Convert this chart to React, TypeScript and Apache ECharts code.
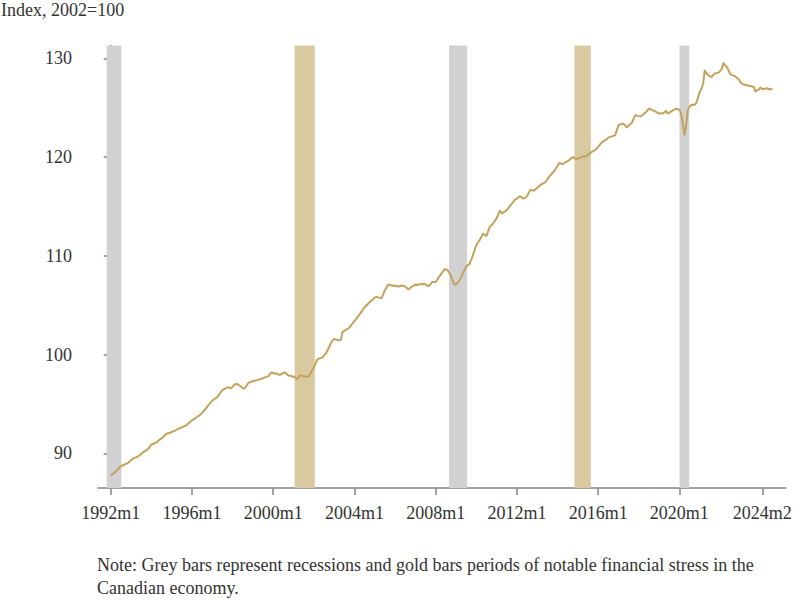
import React, { useEffect, useRef } from "react";
import * as echarts from "echarts";

// Month index 0 = 1992m1
const FIRST_YEAR = 1992;

const indexValues: number[] = [
  // 1992
  87.8, 87.9, 88.0, 88.2, 88.35, 88.55, 88.7, 88.8, 88.85, 88.95, 89.0, 89.15,
  // 1993
  89.3, 89.45, 89.55, 89.6, 89.7, 89.8, 89.95, 90.1, 90.2, 90.3, 90.45, 90.65,
  // 1994
  90.9, 90.95, 91.05, 91.1, 91.25, 91.4, 91.5, 91.65, 91.85, 92.0, 92.05, 92.1,
  // 1995
  92.15, 92.25, 92.3, 92.4, 92.5, 92.55, 92.65, 92.7, 92.8, 92.9, 93.05, 93.2,
  // 1996
  93.35, 93.45, 93.55, 93.7, 93.8, 93.95, 94.1, 94.3, 94.5, 94.7, 94.95, 95.15,
  // 1997
  95.35, 95.45, 95.6, 95.7, 95.95, 96.2, 96.4, 96.5, 96.6, 96.7, 96.65, 96.6,
  // 1998
  96.75, 96.95, 97.05, 97.0, 96.9, 96.75, 96.6, 96.55, 96.8, 97.05, 97.2, 97.25,
  // 1999
  97.3, 97.35, 97.4, 97.45, 97.5, 97.56, 97.6, 97.7, 97.75, 97.8, 98.0, 98.2,
  // 2000
  98.15, 98.1, 98.1, 98.0, 97.96, 98.05, 98.15, 98.2, 98.05, 97.9, 97.87, 97.8,
  // 2001
  97.8, 97.65, 97.5, 97.7, 97.96, 97.85, 97.8, 97.8, 97.8, 97.8, 98.1, 98.4,
  // 2002
  98.7, 99.1, 99.5, 99.6, 99.65, 99.7, 99.9, 100.1, 100.4, 100.75, 101.15, 101.4,
  // 2003
  101.6, 101.55, 101.5, 101.45, 101.5, 102.3, 102.4, 102.5, 102.6, 102.75, 102.95, 103.2,
  // 2004
  103.4, 103.6, 103.85, 104.05, 104.3, 104.55, 104.8, 104.95, 105.15, 105.3, 105.45, 105.6,
  // 2005
  105.8, 105.85, 105.8, 105.75, 105.7, 106.1, 106.5, 106.8, 107.1, 107.05, 107.0, 106.95,
  // 2006
  107.0, 106.95, 106.9, 106.95, 107.0, 106.95, 106.9, 106.75, 106.6, 106.75, 106.9, 107.0,
  // 2007
  107.1, 107.05, 107.1, 107.15, 107.1, 107.2, 107.1, 107.0, 106.95, 107.15, 107.36, 107.36,
  // 2008
  107.36, 107.6, 107.87, 108.1, 108.35, 108.6, 108.65, 108.55, 108.3, 108.0, 107.5, 107.1,
  // 2009
  107.1, 107.3, 107.5, 107.8, 108.2, 108.55, 108.9, 109.05, 109.2, 109.6, 110.06, 110.6,
  // 2010
  111.07, 111.35, 111.6, 111.9, 112.27, 112.1, 112.0, 112.5, 112.94, 113.1, 113.3, 113.55,
  // 2011
  113.8, 114.2, 114.6, 114.3, 114.4, 114.5, 114.63, 114.85, 115.1, 115.3, 115.5, 115.7,
  // 2012
  115.8, 115.95, 116.05, 115.9, 115.8, 115.9, 116.05, 116.4, 116.7, 116.65, 116.6, 116.75,
  // 2013
  116.9, 117.05, 117.2, 117.3, 117.4, 117.5, 117.75, 118.0, 118.2, 118.4, 118.6, 118.85,
  // 2014
  119.1, 119.4, 119.35, 119.3, 119.4, 119.5, 119.6, 119.7, 119.85, 120.0, 119.9, 119.77,
  // 2015
  119.85, 119.9, 120.0, 120.05, 120.05, 120.1, 120.25, 120.37, 120.5, 120.6, 120.7, 120.85,
  // 2016
  121.04, 121.25, 121.45, 121.6, 121.7, 121.8, 121.95, 122.05, 122.1, 122.15, 122.2, 122.7,
  // 2017
  123.24, 123.3, 123.35, 123.4, 123.2, 123.0, 123.2, 123.35, 123.48, 123.9, 124.26, 124.2,
  // 2018
  124.15, 124.1, 124.25, 124.4, 124.5, 124.7, 124.9, 124.85, 124.76, 124.7, 124.6, 124.5,
  // 2019
  124.4, 124.45, 124.4, 124.5, 124.7, 124.4, 124.5, 124.6, 124.7, 124.8, 124.9, 124.85,
  // 2020
  124.83, 124.4, 123.4, 122.2, 123.2, 124.8, 125.1, 125.27, 125.3, 125.3, 125.5, 126.0,
  // 2021
  126.6, 126.9, 127.4, 128.8, 128.5, 128.3, 128.2, 128.1, 128.3, 128.48, 128.5, 128.55,
  // 2022
  128.7, 128.9, 129.56, 129.3, 129.15, 128.8, 128.4, 128.3, 128.25, 128.2, 128.0, 127.9,
  // 2023
  127.6, 127.45, 127.35, 127.3, 127.3, 127.2, 127.2, 127.15, 127.1, 126.6, 126.8, 126.85,
  // 2024
  127.05, 126.9, 126.9, 126.95, 126.96, 126.85, 126.9, 126.85,
];

// Shaded periods, in month indices (start, end)
const recessionBands: [number, number][] = [
  [-2.4, 6.3],
  [199.9, 210.6],
  [336.1, 341.8],
];
const stressBands: [number, number][] = [
  [108.7, 120.6],
  [274.0, 283.7],
];

const xTickMonths = [0, 48, 96, 144, 192, 240, 288, 336, 385];
const yTicks = [90, 100, 110, 120, 130];

const yAxisTitle = "Index, 2002=100";
const noteLines = [
  "Note: Grey bars represent recessions and gold bars periods of notable financial stress in the",
  "Canadian economy.",
];

const FONT = "'Liberation Serif', 'DejaVu Serif', serif";
const FONT_SIZE = 18;
const LINE_COLOR = "#c3a25c";
const GREY_BAR = "#d1d1d3";
const GOLD_BAR = "#d9c9a0";
const AXIS_COLOR = "#858585";
const TEXT_COLOR = "#333333";

const monthLabel = (m: number) => {
  const mi = Math.round(m);
  const year = FIRST_YEAR + Math.floor(mi / 12);
  const month = (mi % 12) + 1;
  return `${year}m${month}`;
};

export default function App() {
  const ref = useRef<HTMLDivElement>(null);

  useEffect(() => {
    if (!ref.current) return;
    const chart = echarts.init(ref.current, null, { renderer: "svg" });

    const bandData = [
      ...recessionBands.map(([s, e]) => [
        { xAxis: s, itemStyle: { color: GREY_BAR } },
        { xAxis: e },
      ]),
      ...stressBands.map(([s, e]) => [
        { xAxis: s, itemStyle: { color: GOLD_BAR } },
        { xAxis: e },
      ]),
    ];

    chart.setOption({
      animation: false,
      backgroundColor: "#ffffff",
      textStyle: { fontFamily: FONT },
      grid: { left: 98, right: 14, top: 45.5, bottom: 120 },
      xAxis: {
        type: "value",
        min: -7.5,
        max: 399,
        splitLine: { show: false },
        axisLine: { show: true, lineStyle: { color: AXIS_COLOR, width: 1.5 } },
        axisTick: {
          show: true,
          length: 7,
          lineStyle: { color: AXIS_COLOR, width: 1.5 },
          customValues: xTickMonths,
        },
        axisLabel: {
          show: true,
          customValues: xTickMonths,
          formatter: (v: number) => monthLabel(v),
          color: TEXT_COLOR,
          fontFamily: FONT,
          fontSize: FONT_SIZE,
          margin: 16,
        },
      },
      yAxis: {
        type: "value",
        min: 86.5,
        max: 131.3,
        splitLine: { show: false },
        axisLine: { show: true, lineStyle: { color: AXIS_COLOR, width: 1.5 } },
        axisTick: {
          show: true,
          length: 7,
          lineStyle: { color: AXIS_COLOR, width: 1.5 },
          customValues: yTicks,
        },
        axisLabel: {
          show: true,
          customValues: yTicks,
          color: TEXT_COLOR,
          fontFamily: FONT,
          fontSize: FONT_SIZE,
          margin: 26,
        },
      },
      graphic: [
        {
          type: "text",
          left: 1,
          top: 1,
          style: {
            text: yAxisTitle,
            fill: TEXT_COLOR,
            font: `${FONT_SIZE}px ${FONT}`,
          },
        },
        ...noteLines.map((t, i) => ({
          type: "text",
          left: 97,
          top: 556 + i * 23,
          style: {
            text: t,
            fill: TEXT_COLOR,
            font: `${FONT_SIZE}px ${FONT}`,
          },
        })),
      ],
      series: [
        {
          type: "line",
          data: [],
          silent: true,
          z: 1,
          markArea: {
            silent: true,
            data: bandData,
          },
        },
        {
          type: "line",
          z: 5,
          data: indexValues.map((v, i) => [i, v]),
          showSymbol: false,
          symbol: "none",
          lineStyle: { color: LINE_COLOR, width: 2 },
          itemStyle: { color: LINE_COLOR },
        },
      ],
    });

    return () => chart.dispose();
  }, []);

  return (
    <div
      ref={ref}
      style={{ position: "absolute", left: 0, top: 0, width: 800, height: 608 }}
    />
  );
}
